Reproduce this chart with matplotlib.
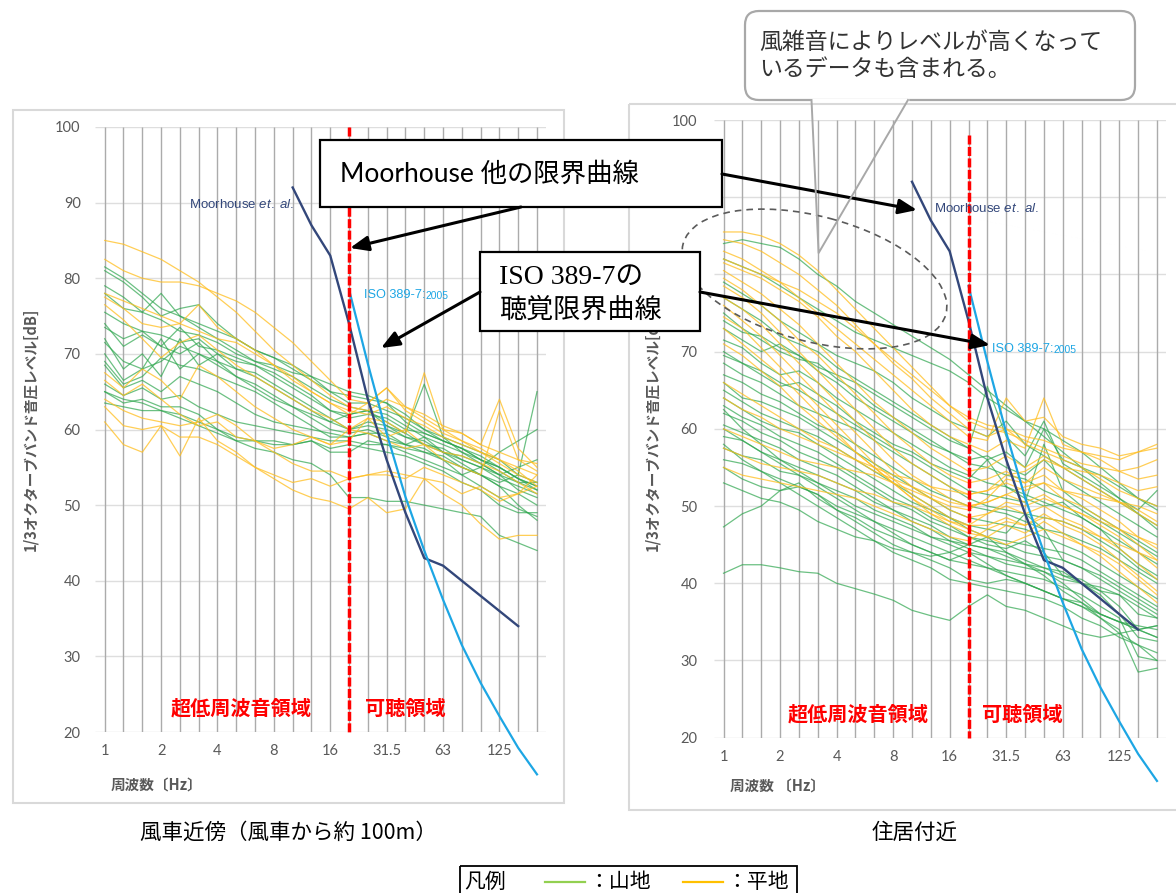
import matplotlib
matplotlib.use('Agg')
import matplotlib.pyplot as plt
from matplotlib.patches import Rectangle, FancyBboxPatch, Ellipse, FancyArrowPatch
import numpy as np

plt.rcParams['font.family'] = ['Noto Sans CJK JP', 'DejaVu Sans']
plt.rcParams['mathtext.fontset'] = 'custom'
plt.rcParams['mathtext.rm'] = 'Liberation Sans'
plt.rcParams['mathtext.it'] = 'Liberation Sans:italic'

# ---------------- data ----------------
bands = ['1', '1.25', '1.6', '2', '2.5', '3.15', '4', '5', '6.3', '8', '10', '12.5',
         '16', '20', '25', '31.5', '40', '50', '63', '80', '100', '125', '160', '200']
tick_bands = ['1', '2', '4', '8', '16', '31.5', '63', '125']
yticks = [20, 30, 40, 50, 60, 70, 80, 90, 100]

moorhouse_bands = ['10', '12.5', '16', '20', '25', '31.5', '40', '50', '63', '80', '100', '125', '160']
moorhouse_db = [92, 87, 83, 74, 64, 56, 49, 43, 42, 40, 38, 36, 34]
iso_bands = ['20', '25', '31.5', '40', '50', '63', '80', '100', '125', '160', '200']
iso_db = [78.5, 68.7, 59.5, 51.1, 44.0, 37.5, 31.5, 26.5, 22.1, 17.9, 14.4]

# 風車近傍 : 山地 (green)
left_mountain = [
    [81.5, 80, 78, 76, 75, 73.5, 72, 70.5, 69, 68, 67, 65.5, 64, 63, 62.5, 62, 60.5, 59, 58, 57, 56, 55, 53.5, 52],
    [81, 79.5, 77.5, 75, 76, 76.5, 74, 72, 70.5, 69.5, 68, 66.5, 65, 64.5, 64, 63.5, 62, 60, 59, 58, 57, 56, 54, 53],
    [78, 76, 75.5, 78, 75, 74, 73, 72, 70.5, 69.5, 68.5, 67, 66, 65, 64.5, 63.5, 61, 59.5, 58.5, 57.5, 56, 55, 53.5, 52.5],
    [75.5, 74, 73, 72.5, 71.5, 72, 70, 69, 68.5, 67.5, 66, 64.5, 62.5, 62, 62.5, 61, 59.5, 58, 57, 56.5, 55.5, 54, 53, 52],
    [74, 71, 72.5, 71, 70, 71.5, 69, 68, 67.5, 66, 64.5, 63, 61.5, 60, 61, 60.5, 59, 58.5, 57, 56, 55, 54, 52, 51],
    [72, 68, 70, 67, 72, 68.5, 70, 68, 67, 65.5, 64, 62.5, 61, 60, 60.5, 60, 59, 58, 57.5, 56, 55, 53.5, 52.5, 51.5],
    [71.5, 69, 68, 72, 68, 70, 69, 67, 66, 64.5, 63, 61.5, 60, 59.5, 60, 59, 58, 57.5, 56, 55, 54, 52.5, 51.5, 50],
    [69, 66, 67, 69.5, 68.5, 68, 67, 66, 65, 63.5, 62, 60.5, 59, 59, 59.5, 59.5, 58, 59, 57, 55.5, 54, 53, 54, 65],
    [68.5, 65.5, 66.5, 65, 67, 66, 65, 63.5, 62, 61, 60.5, 60, 59.5, 59, 59.5, 58.5, 58, 57, 56.5, 55, 54, 52.5, 50, 48],
    [66, 64.5, 65.5, 64, 64.5, 63, 62, 61, 60.5, 60, 59.5, 59, 58.5, 58.5, 58, 58, 57.5, 57, 56, 54, 52.5, 51, 49.5, 48.5],
    [65, 63.5, 64, 63, 63, 62, 60, 59, 58.5, 58, 58, 58.5, 57, 57, 58.5, 58, 57, 56, 55, 54, 55, 57, 58.5, 60],
    [63.5, 63, 62.5, 62.5, 61.5, 60.5, 59.5, 58.5, 58.5, 58.5, 58, 58.5, 57.5, 58, 57.5, 57, 56.5, 55.5, 54.5, 53, 52, 50, 49, 49],
    [65, 64, 63.5, 62.5, 62, 61, 60, 58.5, 57.5, 57, 56, 55.5, 54, 51, 51, 50.5, 50.5, 50, 49.5, 49, 48.5, 46, 45, 44],
    [79, 77.5, 75.5, 74.5, 73, 72.5, 71.5, 70, 69, 68.5, 67.5, 67, 65, 63.5, 63.5, 62.5, 61.5, 60, 58.5, 57.5, 56, 54.5, 53, 53],
    [70, 66.5, 68, 69, 71, 70, 68.5, 67, 65.5, 64, 63, 62, 61, 62, 62.5, 60.5, 59.5, 66, 59, 57, 55.5, 54, 55, 56],
    [73.5, 72, 73, 71, 73.5, 71, 70.5, 69.5, 68.5, 67, 65.5, 64, 62.5, 61.5, 62, 61.5, 60, 59.5, 58.5, 57.5, 56.5, 55, 53.5, 52.5],
]

# 風車近傍 : 平地 (orange)
left_plain = [
    [85, 84.5, 83.5, 82.5, 81, 79.5, 77.5, 75.5, 73, 70.5, 68.5, 66.5, 64.5, 63, 62.5, 64, 63, 61.5, 60, 58.5, 57.5, 56, 55, 54],
    [82.5, 81, 80, 79.5, 79.5, 79, 78, 77, 75.5, 73.5, 71.5, 69, 66.5, 64, 63.5, 65.5, 63, 62, 60.5, 59.5, 58, 57, 56, 55.5],
    [78, 77, 76, 75, 74, 73, 72, 71.5, 70, 68.5, 67, 65, 63.5, 62, 63.5, 65.5, 62.5, 61, 59.5, 58.5, 57, 55.5, 54, 53],
    [77.5, 76, 74, 73.5, 74, 76.5, 73.5, 72, 70.5, 68.5, 66.5, 65, 63.5, 62.5, 62, 63, 61.5, 60.5, 59, 58, 57, 56, 54.5, 52.5],
    [76.5, 74.5, 72, 69.5, 71.5, 72.5, 70.5, 68.5, 67, 65.5, 64, 62.5, 61.5, 60, 61.5, 61, 59.5, 67.5, 60, 59.5, 58, 64, 57.5, 55],
    [67.5, 65.5, 68, 66.5, 64, 68.5, 67, 65, 63, 61.5, 60, 59, 58, 58.5, 61.5, 59, 60, 58, 57, 56.5, 55.5, 54.5, 53, 51.5],
    [66.5, 64.5, 66, 64, 62, 60.5, 61, 59, 58.5, 57.5, 58, 59, 58, 60, 59.5, 58.5, 57.5, 58, 56, 55, 54, 62.5, 56, 54.5],
    [64, 62.5, 61.5, 61, 60.5, 61, 62, 60.5, 58.5, 57, 55.5, 54.5, 54.5, 53.5, 54, 54.5, 54, 53.5, 53, 51.5, 52.5, 51, 51.5, 52.5],
    [63, 60.5, 60, 60.5, 59, 59, 58, 56.5, 55, 53.5, 52, 51, 50.5, 49.5, 51, 49, 49.5, 53.5, 51.5, 50, 47.5, 45.5, 46, 46],
    [61, 58, 57, 60.5, 56.5, 61.5, 58.5, 57, 55, 54, 53, 53.5, 52.5, 53.5, 54, 54, 53.5, 55, 54, 53, 52, 50.5, 51.5, 54],
]

# 住居付近 : 山地 (green)
right_mountain = [
    [84, 84.5, 84, 83.5, 82, 80, 78.5, 76.5, 75, 73.5, 72, 70.5, 69, 67, 65, 63, 61, 59, 57, 55, 53, 51, 49, 47],
    [82, 81, 80, 78.5, 77, 75.5, 74, 72.5, 71.5, 70.5, 69.5, 68.5, 67.5, 66, 64, 62.5, 61, 60, 58.5, 57, 55, 53, 51, 50],
    [79, 77.5, 76, 74, 72.5, 71, 69.5, 68.5, 67.5, 66, 64, 62.5, 61, 60, 59, 61, 58, 56.5, 55, 53.5, 52, 50.5, 49, 47.5],
    [77, 75.5, 74, 72, 71, 70, 68, 66.5, 65, 63.5, 62, 60.5, 59, 57.5, 56, 57, 55, 60, 56, 55, 54, 52.5, 51, 49.5],
    [75, 73, 71.5, 70, 69, 68.5, 66.5, 65, 63, 61.5, 60, 58.5, 57, 55.5, 55, 54, 53.5, 52, 51, 49.5, 48, 46.5, 45, 43.5],
    [73, 71.5, 70, 71, 69.5, 67.5, 66, 64, 62.5, 61, 59.5, 58, 57, 56, 56.5, 55, 54, 56, 53.5, 52, 50.5, 49, 47.5, 46],
    [71.5, 70.5, 68.5, 67, 67.5, 66, 64, 62.5, 61, 59.5, 58, 56.5, 55, 54, 53, 52.5, 51.5, 50.5, 49.5, 48.5, 47, 45.5, 44, 42.5],
    [70, 68.5, 67.5, 66, 65, 63.5, 62, 60.5, 59, 57.5, 56.5, 55, 53.5, 52, 51.5, 51, 50.5, 58, 52, 50, 48.5, 47, 45.5, 44],
    [68.5, 67, 66, 64.5, 63, 62, 61, 60, 58.5, 57, 55.5, 54, 52.5, 51, 50, 49.5, 49, 48.5, 48, 47, 45.5, 44, 42, 40.5],
    [67, 66, 64.5, 63.5, 62, 60.5, 59.5, 58, 56.5, 55, 53.5, 52, 51, 50, 49.5, 49, 48, 47, 46.5, 45.5, 44.5, 43, 41.5, 40],
    [66, 64, 63.5, 62.5, 61.5, 60, 58.5, 57, 55.5, 54, 52.5, 51, 49.5, 48.5, 48, 47.5, 47, 46, 45, 44, 42.5, 41, 39.5, 38],
    [65, 63.5, 62, 61, 60, 59, 57.5, 56, 54.5, 53, 51.5, 50, 48.5, 47.5, 47, 46.5, 49, 47, 43, 42, 41, 39.5, 38, 36.5],
    [64, 62.5, 61, 60, 59.5, 58, 56.5, 55, 53.5, 52, 50.5, 49.5, 48.5, 47, 46, 45.5, 45, 44.5, 44, 43, 41.5, 40, 38.5, 37],
    [63, 61.5, 60.5, 59, 58, 57, 55.5, 54, 52.5, 51, 50, 48.5, 47.5, 46, 45.5, 45, 44, 43.5, 43, 42, 40.5, 39, 37.5, 36],
    [62, 61, 59.5, 58.5, 57, 56, 55, 53.5, 52, 50.5, 49.5, 48, 47, 46, 45, 44.5, 45.5, 44, 41, 40, 39.5, 38.5, 37, 35.5],
    [60.5, 59.5, 58.5, 57.5, 56, 55, 54, 52.5, 51, 49.5, 48.5, 47.5, 46, 45, 44.5, 44, 43, 42, 41, 40.5, 39, 37, 34, 33],
    [59, 58.5, 57, 56, 55, 54, 53, 52, 50.5, 49.5, 48, 47, 45.5, 44.5, 43.5, 43, 42.5, 42, 41.5, 40, 39, 38.5, 36, 35.5],
    [57.5, 56.5, 56, 54.5, 54, 53, 52, 51, 49.5, 48.5, 47.5, 46, 45, 44, 43.5, 42.5, 42, 41.5, 40.5, 40, 38.5, 36, 33, 32.5],
    [56, 55.5, 54.5, 53.5, 52.5, 51.5, 50, 49, 48, 47, 46, 45, 44, 43, 42, 41.5, 41, 40.5, 39.5, 38.5, 37, 35.5, 30.5, 30],
    [55, 53.5, 52.5, 52, 53, 51, 49.5, 48.5, 47, 46, 45, 44, 43, 42.5, 42, 41, 40, 39, 38, 37, 35.5, 34, 28.5, 29],
    [53, 52, 51, 50.5, 49.5, 48, 47, 46, 45.5, 44.5, 44, 43.5, 44, 45, 46, 44, 42.5, 41, 39, 37.5, 35.5, 33.5, 32, 30],
    [47.3, 49, 50, 52, 52.5, 51.5, 49.5, 48, 46.5, 45, 44, 43, 42, 40.5, 40, 40.5, 40, 39, 38, 37.5, 36, 35, 34, 33],
    [41.3, 42.4, 42.4, 42, 41.5, 41.3, 40, 39.3, 38.6, 37.8, 36.5, 35.8, 35.2, 37, 38.5, 37, 36.5, 35.5, 34.5, 33.5, 33, 33.5, 34, 34.5],
    [62.5, 60, 58, 56, 54.5, 53, 51.5, 50, 49, 48, 47, 46, 45.5, 45, 44.5, 43.5, 42.5, 41.5, 40, 38, 36, 35, 34, 34.5],
    [69.5, 68.5, 67, 65.5, 66, 64.5, 63, 61, 59.5, 58, 57, 55.5, 54.5, 53.5, 56, 52.5, 51, 50, 50.5, 48.5, 47, 44.5, 42.5, 41],
    [74, 72.5, 72, 70.5, 69.5, 68, 67, 66, 64.5, 63, 61.5, 60, 58.5, 57.5, 65.5, 59, 56.5, 61, 55.5, 54, 52.5, 51, 49.5, 52],
    [60, 58.5, 57, 55.5, 54, 52.5, 51, 49.5, 48, 46.5, 45, 44, 43, 44, 42.5, 41, 40, 39, 38, 37, 36, 35, 34.5, 34],
    [58, 56, 54.5, 53, 51.5, 50, 48.5, 47, 45.5, 44, 43, 42, 40.5, 40, 39.5, 39, 38.5, 38, 37, 35.5, 34.5, 33, 32, 31],
]

# 住居付近 : 平地 (orange)
right_plain = [
    [85.5, 85.5, 85, 84, 82.5, 80.5, 78, 75.5, 73, 70.5, 68, 65.5, 63, 61, 60, 59.5, 58.5, 57.5, 56.5, 55.5, 55, 54.5, 55, 56],
    [84.5, 84, 83, 81.5, 80, 78, 76, 73.5, 71, 68.5, 66.5, 64, 62, 60, 59, 60, 58, 57, 56, 55, 53.5, 52, 51, 50],
    [83, 82, 80.5, 79, 77, 75, 73, 71, 69, 67, 65, 63, 61, 59, 58.5, 64, 61, 61.5, 59, 58, 57.5, 56.5, 57, 57.5],
    [81.5, 80.5, 79.5, 78, 76.5, 74.5, 72, 70, 67.5, 65, 62.5, 60.5, 59, 58, 57, 58.5, 57.5, 64, 58, 57, 56, 54.5, 53.5, 54],
    [80.5, 79, 77.5, 75.5, 73.5, 71, 68.5, 66, 63.5, 61.5, 59.5, 57.5, 56, 54.5, 55, 56.5, 55, 56.5, 55, 53.5, 52, 50.5, 49, 47.5],
    [79.5, 78, 76, 74, 71.5, 69.5, 67, 64.5, 62, 59.5, 57.5, 55.5, 54, 53, 53.5, 54.5, 53, 54, 52, 51, 49.5, 48, 46, 44.5],
    [78.5, 77, 75, 72.5, 70, 67.5, 65, 62.5, 60, 57.5, 55.5, 54, 52.5, 51.5, 52, 53, 52, 53, 51, 50, 48.5, 47, 45, 43],
    [77, 75.5, 73.5, 71, 68.5, 66, 63.5, 61, 58.5, 56, 54, 52.5, 51, 50, 50.5, 51.5, 50.5, 51.5, 50, 49, 47.5, 46, 44, 42],
    [76, 74, 72, 69.5, 67, 64.5, 62, 59.5, 57, 54.5, 52.5, 51, 49.5, 48.5, 49, 50, 49, 50, 48.5, 47.5, 46, 44.5, 42.5, 40.5],
    [74.5, 73, 70.5, 68, 65.5, 63, 60.5, 58, 55.5, 53.5, 51.5, 50, 48.5, 47.5, 47.5, 48.5, 47.5, 49, 47.5, 46.5, 45, 43, 41, 39],
    [73, 71, 69, 67, 64.5, 62, 59.5, 57, 55, 53, 51, 49.5, 48, 47, 46, 47.5, 46.5, 48, 46.5, 45, 43.5, 41.5, 39.5, 37.5],
    [71, 69.5, 67.5, 65.5, 63, 61, 59, 57, 55, 53, 51, 49, 47.5, 46.5, 46, 45, 46, 47, 46, 45, 44, 42.5, 40.5, 38.5],
    [66, 64.5, 63, 61.5, 60, 58.5, 57.5, 56, 54.5, 53.5, 52.5, 51.5, 50.5, 50, 50.5, 51.5, 52.5, 53, 52, 51.5, 51, 50.5, 50, 49],
    [64, 62.5, 61.5, 60, 59, 58, 57, 56, 55, 54, 53.5, 52.5, 52, 51.5, 52, 54, 54.5, 56, 55, 54.5, 54, 53, 52, 52.5],
    [60, 59, 58, 57, 56, 55.5, 55, 54.5, 54, 53, 52, 51, 50, 49.5, 51, 53.5, 53, 55, 53.5, 52.5, 51.5, 50.5, 49.5, 48],
    [57.5, 56.5, 55.5, 55, 54.5, 54, 53, 52, 51.5, 50.5, 50, 49, 48, 47.5, 49, 50.5, 50, 51, 50, 49, 48, 47, 46, 45],
    [55, 54, 53.5, 53, 52.5, 52, 51.5, 51, 50, 49, 48, 47, 46, 45.5, 47, 48, 47.5, 48.5, 48, 47, 46, 45, 44, 43],
    [82, 81, 80, 79, 78, 76.5, 75, 73, 71, 69, 67, 65, 63, 61.5, 60.5, 60, 59, 58.5, 57.5, 57, 56.5, 56, 57, 58],
]

# ---------------- styling ----------------
W, H = 1176, 893
GRID_V = '#ABABAB'
GRID_H = '#DEDEDE'
TXT = '#595959'
GREEN = '#2EA64E'
ORANGE = '#FFBE1E'
NAVY = '#33477A'
SKY = '#1DA6E4'

fig = plt.figure(figsize=(W / 100, H / 100), dpi=100)
fig.patch.set_facecolor('white')


def frac(x0, y0, x1, y1):
    return [x0 / W, 1 - y1 / H, (x1 - x0) / W, (y1 - y0) / H]


def panel(ax, mountain, plain, red_top, ylab_x, ypad, xpad):
    n = len(bands)
    xs = np.arange(n)
    ax.set_xlim(-0.5, n - 0.5)
    ax.set_ylim(20, 100)
    ax.hlines(yticks, -0.5, n - 0.5, color=GRID_H, lw=1.0, zorder=0.5)
    ax.vlines(xs, 20, 100, color=GRID_V, lw=1.0, zorder=0.6)
    for row in mountain:
        ax.plot(np.arange(len(row)), row, color=GREEN, lw=0.9, alpha=0.7, zorder=2)
    for row in plain:
        ax.plot(np.arange(len(row)), row, color=ORANGE, lw=0.9, alpha=0.75, zorder=2.1)
    mi = [bands.index(b) for b in moorhouse_bands]
    ax.plot(mi, moorhouse_db, color=NAVY, lw=1.7, zorder=4)
    ii = [bands.index(b) for b in iso_bands]
    ax.plot(ii, iso_db, color=SKY, lw=1.6, zorder=4, clip_on=False)
    r = bands.index('20')
    ax.plot([r, r], [red_top, 20], color='#FF0000', lw=2.5, ls=(0, (2.6, 0.7)), zorder=5,
            clip_on=False)
    ax.set_xticks([bands.index(b) for b in tick_bands], tick_bands)
    ax.set_yticks(yticks, [str(v) for v in yticks])
    ax.tick_params(axis='both', length=0, labelsize=10.5, labelcolor=TXT, labelfontfamily='Lato')
    ax.tick_params(axis='y', pad=ypad)
    ax.tick_params(axis='x', pad=xpad)
    for s in ax.spines.values():
        s.set_visible(False)
    ax.set_ylabel('1/3オクターブバンド音圧レベル[dB]', fontsize=10.5, fontweight='bold', color=TXT)
    ax.yaxis.set_label_coords(ylab_x, 0.5)
    ax.set_facecolor('none')


ax_l = fig.add_axes(frac(95.3, 127, 546.4, 732))
ax_r = fig.add_axes(frac(714.1, 120, 1166.4, 737.7))
panel(ax_l, left_mountain, left_plain, 100, -0.127, 10.5, 8.5)
panel(ax_r, right_mountain, right_plain, 98, -0.12, 12, 9)

# ---------------- overlay (pixel coordinates) ----------------
ov = fig.add_axes([0, 0, 1, 1], zorder=10)
ov.set_xlim(0, W)
ov.set_ylim(H, 0)
ov.axis('off')
ov.patch.set_alpha(0)

# chart-area borders
ov.add_patch(Rectangle((13, 110), 551, 693, fill=False, ec='#D9D9D9', lw=1.5))
ov.add_patch(Rectangle((629, 104), 560, 706, fill=False, ec='#D9D9D9', lw=1.5))

# x-axis titles
ov.text(111, 785, '周波数〔Hz〕', fontsize=10.5, fontweight='bold', color=TXT, ha='left', va='center')
ov.text(730, 786, '周波数 〔Hz〕', fontsize=10.5, fontweight='bold', color=TXT, ha='left', va='center')

# curve labels
rend = fig.canvas.get_renderer()
for (mx, my), (ix, iy) in [((189, 204), (364, 295)), ((934, 209), (992, 349))]:
    ov.text(mx, my, r'Moorhouse $\it{et.\ al.}$', fontsize=9.5, color=NAVY, ha='left', va='center',
            family='Liberation Sans')
    t1 = ov.text(ix, iy, 'ISO 389-7:', fontsize=9.2, color=SKY, ha='left', va='center',
                 family='Liberation Sans')
    bb = t1.get_window_extent(renderer=rend)
    ov.text(bb.x1, iy + 1, '2005', fontsize=7.4, color=SKY, ha='left', va='center',
            family='Liberation Sans')

# region labels
for x, y, s in [(241, 708, '超低周波音領域'), (405, 708, '可聴領域'),
                (858, 714, '超低周波音領域'), (1022, 714, '可聴領域')]:
    ov.text(x, y, s, fontsize=14.5, fontweight='bold', color='#FF0000', ha='center', va='center')

# dashed ellipse
ov.add_patch(Ellipse((814.5, 279), 272, 125, angle=15, fill=False, ec='#5A5A5A', lw=1.2,
                     ls=(0, (4, 3))))

# speech bubble
ov.add_patch(FancyBboxPatch((745, 11), 390, 89, boxstyle='round,pad=0,rounding_size=14',
                            fc='white', ec='#A8A8A8', lw=1.6))
ov.plot([812.5, 907], [100, 100], color='white', lw=2.5)
ov.plot([811.5, 818.6, 908], [100, 253, 100], color='#A8A8A8', lw=1.4)
ov.text(759, 42, '風雑音によりレベルが高くなって', fontsize=16.5, color='#333333', ha='left', va='center')
ov.text(759, 70, 'いるデータも含まれる。', fontsize=16.5, color='#333333', ha='left', va='center')

# callout boxes
ov.add_patch(Rectangle((320, 140), 402, 67, fc='white', ec='black', lw=1.6))
ov.text(340, 174, 'Moorhouse 他の限界曲線', fontsize=19, color='black', ha='left', va='center',
        family=['Lato', 'Noto Sans CJK JP'])
ov.add_patch(Rectangle((480, 252), 220, 79, fc='white', ec='black', lw=1.6))
ov.text(499, 277, 'ISO 389-7の', fontsize=20, color='black', ha='left', va='center',
        family=['Liberation Serif', 'Noto Sans CJK JP'])
ov.text(499, 310, '聴覚限界曲線', fontsize=19.5, color='black', ha='left', va='center')

# arrows
arrow_style = '-|>,head_length=11,head_width=4.5'
for (x0, y0), (x1, y1) in [((521, 207), (350, 248)), ((722, 174), (917, 210)),
                           ((480, 292), (381, 348)), ((700, 292), (990, 345))]:
    ov.add_patch(FancyArrowPatch((x0, y0), (x1, y1), arrowstyle=arrow_style, mutation_scale=1,
                                 color='black', lw=2.2, shrinkA=0, shrinkB=0))

# panel titles
ov.text(288, 833, '風車近傍（風車から約 100m）', fontsize=15.5, color='black', ha='center', va='center')
ov.text(915, 833, '住居付近', fontsize=15.5, color='black', ha='center', va='center')

# legend
ov.add_patch(Rectangle((460, 866), 337, 40, fill=False, ec='black', lw=1.3))
ov.text(464, 882, '凡例', fontsize=15, color='black', ha='left', va='center')
ov.plot([545, 585], [882, 882], color='#92D050', lw=1.6)
ov.text(588, 882, '：山地', fontsize=15, color='black', ha='left', va='center')
ov.plot([683, 723], [882, 882], color='#FFC000', lw=1.6)
ov.text(726, 882, '：平地', fontsize=15, color='black', ha='left', va='center')

fig.savefig('out.png', dpi=100, facecolor='white')
